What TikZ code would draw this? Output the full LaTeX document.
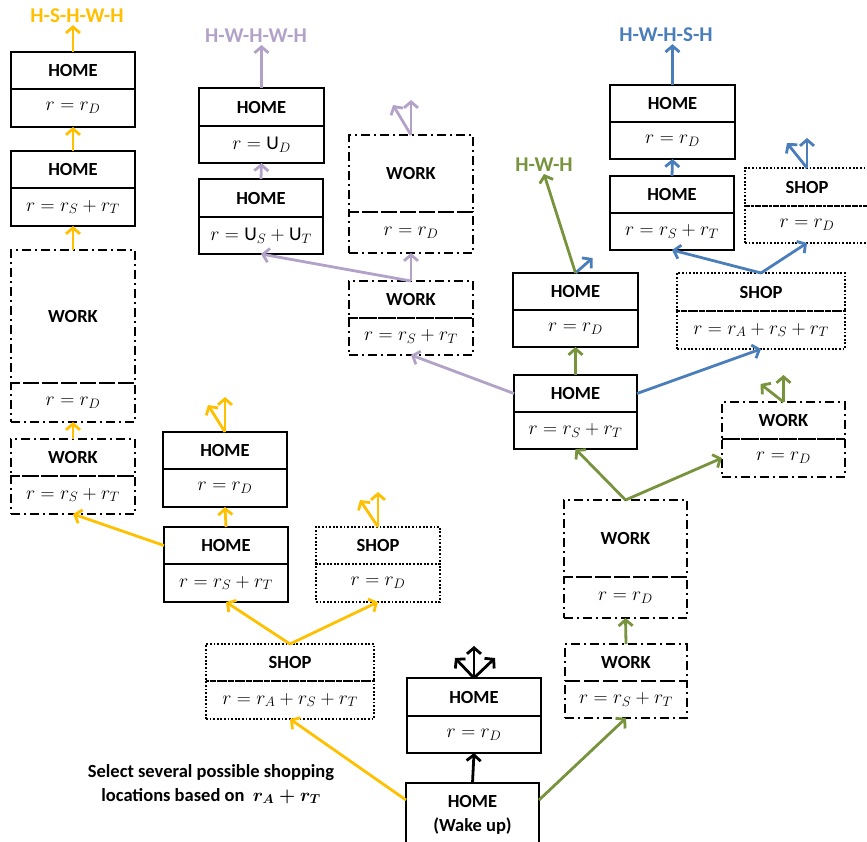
\RequirePackage{fix-cm}
\documentclass[tikz,border=0pt]{standalone}
\usepackage{fontspec}
\setmainfont{Carlito}
\usetikzlibrary{arrows.meta,positioning,calc}
\definecolor{tripgold}{HTML}{FFC000}
\definecolor{trippurple}{HTML}{B3A2C7}
\definecolor{tripblue}{HTML}{4A7EBB}
\definecolor{tripgreen}{HTML}{77933C}

\begin{document}
\begin{tikzpicture}[x=1pt,y=-1pt,font=\fontsize{18.5}{22}\selectfont\bfseries,
  >={Straight Barb[length=6pt,width=14pt]},
  box/.style={draw,line width=2pt,inner sep=0pt,outer sep=0pt},
  home/.style={box},
  work/.style={box,line width=1.4pt,dash pattern=on 9pt off 4pt on 2pt off 4pt},
  shop/.style={box,line width=1.8pt,dash pattern=on 1.8pt off 1.8pt},
  trip/.style={line width=2.8pt},
  tag/.style={font=\fontsize{21}{24}\selectfont\bfseries,inner sep=2pt}]
\useasboundingbox (0,0) rectangle (867,841);
\foreach \n/\s/\x/\y/\w/\h/\t/\f/\g in {
  yh1/home/11/52/124/37/HOME/{$r=r_D$}/38,
  yh2/home/11/151/124/37/HOME/{$r=r_S+r_T$}/38,
  yw2/work/11/250/124/133/WORK/{$r=r_D$}/39,
  yw1/work/11/439/124/37/WORK/{$r=r_S+r_T$}/38,
  yh3/home/163/432/124/37/HOME/{$r=r_D$}/38,
  yh4/home/164/527/124/37/HOME/{$r=r_S+r_T$}/38,
  ys1/shop/316/527/124/37/SHOP/{$r=r_D$}/38,
  ys2/shop/206/644/168/37/SHOP/{$r=r_A+r_S+r_T$}/38,
  kh1/home/407/678/134/38/HOME/{$r=r_D$}/37,
  ph1/home/199/88/125/38/HOME/{$r=\mathrm{U}_D$}/37,
  ph2/home/199/179/124/38/HOME/{$r=\mathrm{U}_S+\mathrm{U}_T$}/37,
  pw2/work/349/135/124/77/WORK/{$r=r_D$}/41,
  pw1/work/349/281/124/37/WORK/{$r=r_S+r_T$}/37,
  bh1/home/610/85/125/37/HOME/{$r=r_D$}/37,
  bh2/home/610/176/124/37/HOME/{$r=r_S+r_T$}/37,
  bs1/shop/745/168/124/38/SHOP/{$r=r_D$}/37,
  bs2/shop/677/273/168/38/SHOP/{$r=r_A+r_S+r_T$}/38,
  gh1/home/513/273/125/37/HOME/{$r=r_D$}/37,
  gh2/home/514/375/123/37/HOME/{$r=r_S+r_T$}/37,
  gw3/work/722/402/123/37/WORK/{$r=r_D$}/38,
  gw2/work/564/500/123/77/WORK/{$r=r_D$}/41,
  gw1/work/565/644/122/37/WORK/{$r=r_S+r_T$}/37}
{
  \node[\s,anchor=north west,minimum width=\w,minimum height=\h] (\n) at (\x,\y) {\t};
  \node[\s,below=0pt of \n,minimum width=\w,minimum height=\g,
    font=\fontsize{19.5}{23}\selectfont] (\n-f) {\f};
}
\node[home,anchor=north west,minimum width=133pt,minimum height=64pt,align=center,
  font=\fontsize{18.5}{24}\selectfont\bfseries] (kw) at (406,783) {HOME\\(Wake up)};

\node[tag,text=tripgold] (yl) at (77,16) {H-S-H-W-H};
\node[tag,text=trippurple] (pl) at (256,36) {H-W-H-W-H};
\node[tag,text=tripblue] (bl) at (666,35) {H-W-H-S-H};
\node[tag,text=tripgreen] (gl) at (544,165) {H-W-H};
\node[align=center,font=\fontsize{18.5}{24}\selectfont\bfseries] (note) at (211,784)
  {Select several possible shopping\\locations based on \ {\boldmath$r_A+r_T$}};

\foreach \n/\u/\dx/\dy in {yh3/35/-17/-27, ys1/35/-18/-27, pw2/35/-18/-30,
  bs1/30/-20/-25, gw3/27/-23/-18, kh1/32/-19/-20}
{
  \coordinate (\n-up) at ([yshift=\u pt]\n.north);
  \coordinate (\n-ul) at ([shift={(\dx,\dy)}]\n.north);
}
\coordinate (kh1-ur) at ([shift={(21,-20)}]kh1.north);
\coordinate (gh1-ur) at ([shift={(17,-15)}]gh1.north);

\path[->,trip,tripgold]
([yshift=-17pt]kw.north west) edge (ys2-f.south)
(ys2.north) edge (yh4-f.south) edge (ys1-f.south)
(yh4.west) edge (yw1-f.south)
(yh4.north) edge (yh3-f.south)
(yw1.north) edge (yw2-f.south)
(yw2.north) edge (yh2-f.south)
(yh2.north) edge (yh1-f.south)
(yh1.north) edge (yh1.north |- yl.south)
(yh3.north) edge (yh3-up) edge (yh3-ul)
(ys1.north) edge (ys1-up) edge (ys1-ul)
;
\path[->,trip,trippurple]
(gh2.west) edge (pw1-f.south)
(pw1.north) edge (pw2-f.south) edge (ph2-f.south)
(pw2.north) edge (pw2-up) edge (pw2-ul)
(ph2.north) edge (ph1-f.south)
(ph1.north) edge (ph1.north |- pl.south)
;
\path[->,trip,tripblue]
(gh2.east) edge (bs2-f.south)
(bs2.north) edge (bh2-f.south) edge (bs1-f.south)
(bs1.north) edge (bs1-up) edge (bs1-ul)
(bh2.north) edge (bh1-f.south)
(bh1.north) edge (bh1.north |- bl.south)
(gh1.north) edge (gh1-ur)
;
\path[->,trip,tripgreen]
([yshift=-17pt]kw.north east) edge (gw1-f.south)
(gw1.north) edge (gw2-f.south)
(gw2.north) edge (gh2-f.south) edge (gw3-f.west)
(gw3.north) edge (gw3-up) edge (gw3-ul)
(gh2.north) edge (gh1-f.south)
(gh1.north) edge (gl.south)
;
\path[->,trip,black]
(kw.north) edge (kh1-f.south)
(kh1.north) edge (kh1-up) edge (kh1-ul) edge (kh1-ur)
;
\end{tikzpicture}
\end{document}
